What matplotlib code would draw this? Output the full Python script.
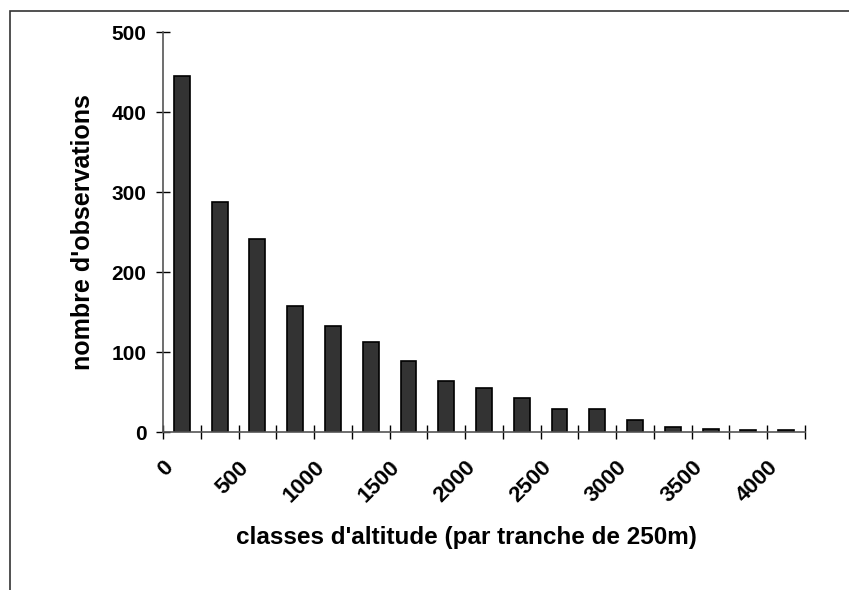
import numpy as np
import matplotlib.pyplot as plt
from matplotlib.patches import Rectangle

plt.rcParams['font.family'] = ['Liberation Sans', 'DejaVu Sans']
plt.rcParams['font.weight'] = 'bold'

# classes d'altitude, 250 m each
class_start = [0, 250, 500, 750, 1000, 1250, 1500, 1750, 2000, 2250,
               2500, 2750, 3000, 3250, 3500, 3750, 4000]
counts = [445, 288, 241, 158, 133, 113, 89, 64, 55, 42,
          29, 29, 15, 6, 4, 2, 2]
tick_labels = ['0', '500', '1000', '1500', '2000', '2500', '3000', '3500', '4000']

W, H = 849, 590
fig = plt.figure(figsize=(W / 100, H / 100), dpi=100)
ax = fig.add_axes([163 / W, 158 / H, (805 - 163) / W, 400 / H])

# outer frame (only top and left visible)
fig.patches.append(Rectangle((9.5 / W, -0.1), 1.2, 1.1 - 11 / H,
                             transform=fig.transFigure, fill=False,
                             edgecolor='#333333', linewidth=1.2))

x = np.array(class_start) + 125
ax.bar(x, counts, width=105, color='#333333', edgecolor='black', linewidth=1.2)

ax.set_xlim(0, 4250)
ax.set_ylim(0, 500)
ax.set_yticks(np.arange(0, 501, 100))
ax.set_xticks(np.arange(0, 4251, 250))
labs = []
for v in np.arange(0, 4251, 250):
    labs.append(str(v) if str(v) in tick_labels else '')
ax.set_xticklabels(labs, rotation=45, ha='right', va='top', rotation_mode='anchor')

for s in ['top', 'right']:
    ax.spines[s].set_visible(False)
for s in ['left', 'bottom']:
    ax.spines[s].set_color('#555555')
    ax.spines[s].set_linewidth(1.2)

ax.tick_params(direction='inout', length=10, width=1, colors='black', labelsize=15)
ax.tick_params(axis='y', pad=7)
ax.tick_params(axis='x', pad=13, labelsize=16)

ax.set_ylabel("nombre d'observations", fontsize=18, fontweight='bold', va='center')
ax.yaxis.set_label_coords(-0.1246, 0.5)
ax.set_xlabel("classes d'altitude (par tranche de 250m)", fontsize=17.5,
              fontweight='bold', va='top')
ax.xaxis.set_label_coords(0.472, -0.235)

fig.savefig('out.png', dpi=100)
